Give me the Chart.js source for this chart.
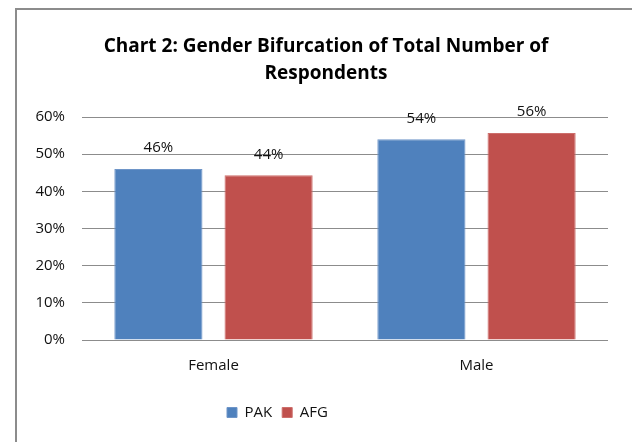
<!DOCTYPE html>
<html>
<head>
<meta charset="utf-8">
<script src="https://cdn.jsdelivr.net/npm/chart.js@4.4.1/dist/chart.umd.min.js"></script>
<style>
  html, body { margin: 0; padding: 0; background: #fff; overflow: hidden; }
  #wrap { position: relative; width: 632px; height: 442px; }
  #frame {
    position: absolute; left: 15px; top: 8px; width: 700px; height: 500px;
    border-left: 2px solid #8c8c8c; border-top: 2px solid #8c8c8c;
    pointer-events: none;
  }
</style>
</head>
<body>
<div id="wrap">
  <canvas id="chart" width="632" height="442"></canvas>
  <div id="frame"></div>
</div>
<script>
// 차트 데이터
const titleLines = ['Chart 2: Gender Bifurcation of Total Number of', 'Respondents'];
const categories = ['Female', 'Male'];
const seriesNames = ['PAK', 'AFG'];
const pakValues = [46, 54];
const afgValues = [44.3, 55.7];
const yTicks = [0, 10, 20, 30, 40, 50, 60];

const FONT = "'Open Sans', sans-serif";

// 막대 위 값 라벨
const valueLabels = {
    id: 'valueLabels',
    afterDatasetsDraw(chart) {
        const ctx = chart.ctx;
        ctx.save();
        ctx.fillStyle = '#111';
        ctx.font = '15px ' + FONT;
        ctx.textAlign = 'center';
        ctx.textBaseline = 'middle';
        chart.data.datasets.forEach((ds, i) => {
            chart.getDatasetMeta(i).data.forEach((bar, j) => {
                ctx.fillText(Math.round(ds.data[j]) + '%', bar.x, bar.y - 21);
            });
        });
        ctx.restore();
    }
};

// 제목/범례 위치 이동 (원본 배치에 맞춤)
const blockShift = {
    id: 'blockShift',
    afterLayout(chart) {
        const t = chart.titleBlock;
        t.left += 22;
        t.right += 22;
        const lg = chart.legend;
        const w = lg.right - lg.left;
        lg.left = 217;
        lg.right = lg.left + w;
    }
};

new Chart(document.getElementById('chart').getContext('2d'), {
    type: 'bar',
    data: {
        labels: categories,
        datasets: [{
            label: seriesNames[0],
            data: pakValues,
            backgroundColor: '#4F81BD',
            borderColor: '#6E95C8',
            borderWidth: 1,
            categoryPercentage: 0.838,
            barPercentage: 0.8
        }, {
            label: seriesNames[1],
            data: afgValues,
            backgroundColor: '#C0504D',
            borderColor: '#CD6E6B',
            borderWidth: 1,
            categoryPercentage: 0.838,
            barPercentage: 0.8
        }]
    },
    options: {
        responsive: false,
        animation: false,
        layout: { padding: { left: 0, right: 24, top: 0, bottom: 12 } },
        plugins: {
            title: {
                display: true,
                text: titleLines,
                color: '#000',
                font: { family: FONT, size: 19, weight: 'bold', lineHeight: 27 / 19 },
                padding: { top: 33, bottom: 30 }
            },
            legend: {
                position: 'bottom',
                align: 'start',
                labels: {
                    boxWidth: 10,
                    boxHeight: 10,
                    padding: 10,
                    color: '#111',
                    font: { family: FONT, size: 15 }
                }
            },
            tooltip: { enabled: false }
        },
        scales: {
            x: {
                grid: { display: false, drawTicks: false },
                border: { display: false },
                ticks: { color: '#111', padding: 17, font: { family: FONT, size: 15 } },
                afterFit: scale => { scale.height = 55; }
            },
            y: {
                min: yTicks[0],
                max: yTicks[yTicks.length - 1],
                afterBuildTicks: scale => { scale.ticks = yTicks.map(v => ({ value: v })); },
                grid: { color: '#8c8c8c', lineWidth: 1, drawTicks: false },
                border: { display: false },
                ticks: {
                    color: '#111',
                    padding: 17,
                    font: { family: FONT, size: 15 },
                    callback: v => v + '%'
                },
                afterFit: scale => { scale.width = 82; }
            }
        }
    },
    plugins: [valueLabels, blockShift]
});
</script>
</body>
</html>
